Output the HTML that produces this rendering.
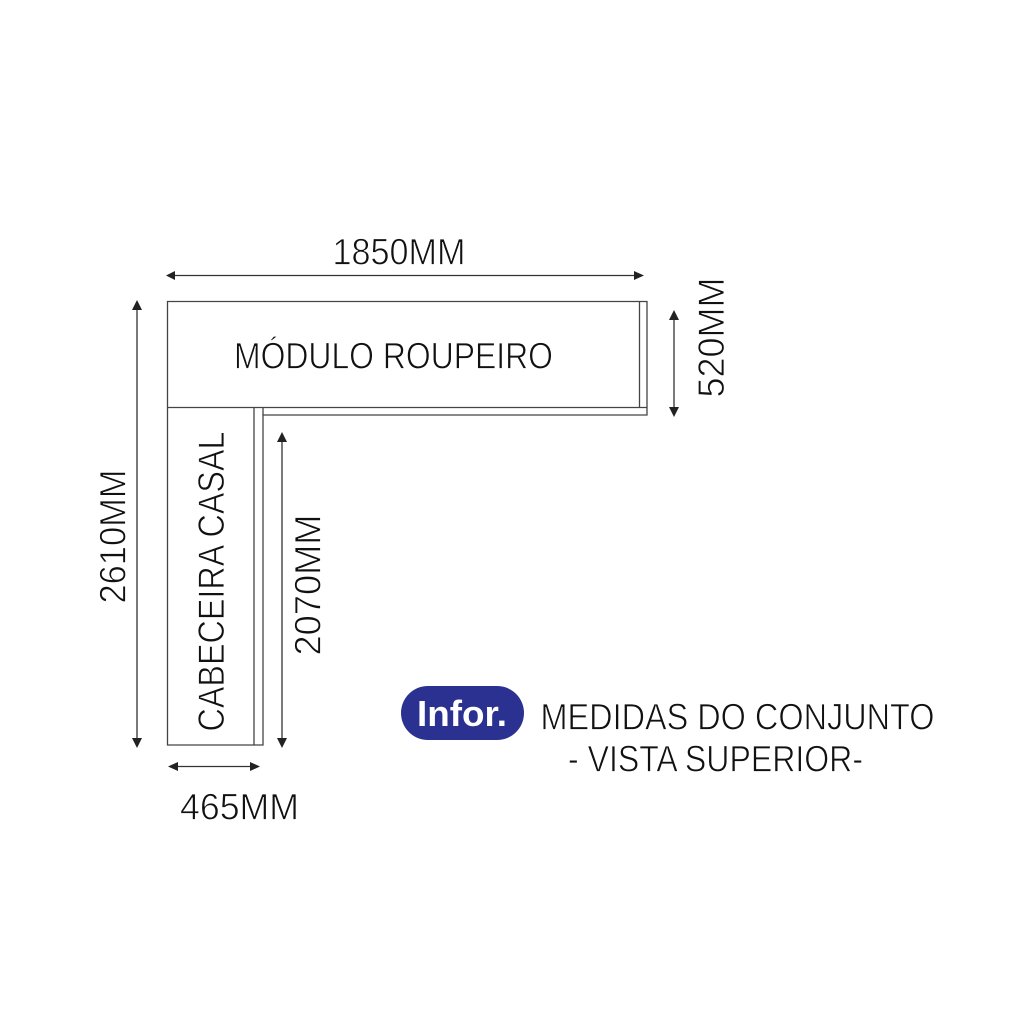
<!DOCTYPE html>
<html><head><meta charset="utf-8"><style>
html,body{margin:0;padding:0;background:#fff}
svg{display:block}
text{font-family:"Liberation Sans",sans-serif;fill:#111}
.t{font-size:37.5px;stroke:#fff;stroke-width:.8px;paint-order:normal}
</style></head><body>
<svg width="1024" height="1024" viewBox="0 0 1024 1024" xmlns="http://www.w3.org/2000/svg">
<rect width="1024" height="1024" fill="#fff"/>
<g fill="none" stroke="#444" stroke-width="1.3">
<path d="M167.500 301.500H647V415H263V745H167.500Z"/>
<path d="M167.500 407.500H647"/>
<path d="M639.500 301.500V407.500"/>
<path d="M254 407.500V745"/>
<path d="M263 407.500V415"/>
</g>
<g fill="none" stroke="#333" stroke-width="1.3">
<path d="M172 275.500H638"/>
<path d="M137 305V743"/>
<path d="M674 315V411"/>
<path d="M282 438V742"/>
<path d="M174 766.500H255"/>
</g>
<g fill="#222">
<path d="M166 275.500L175 271V280Z"/>
<path d="M644 275.500L634 271V280Z"/>
<path d="M137 300L132 310H142Z"/>
<path d="M137 748L132 738H142Z"/>
<path d="M674 310L669 320H679Z"/>
<path d="M674 417L669 407H679Z"/>
<path d="M282 432L277 442H287Z"/>
<path d="M282 748L277 738H287Z"/>
<path d="M168 766.500L178 762V771Z"/>
<path d="M260 766.500L250 762V771Z"/>
</g>
<text class="t" x="332.500" y="264.500" textLength="133" lengthAdjust="spacingAndGlyphs">1850MM</text>
<text class="t" x="234" y="368.500" textLength="319" lengthAdjust="spacingAndGlyphs">MÓDULO ROUPEIRO</text>
<text class="t" x="180" y="819.500" textLength="119" lengthAdjust="spacingAndGlyphs">465MM</text>
<text class="t" transform="translate(724 397.500) rotate(-90)" x="0" y="0" textLength="120" lengthAdjust="spacingAndGlyphs">520MM</text>
<text class="t" transform="translate(125.500 603.500) rotate(-90)" x="0" y="0" textLength="134" lengthAdjust="spacingAndGlyphs">2610MM</text>
<text class="t" transform="translate(320.500 655.500) rotate(-90)" x="0" y="0" textLength="141" lengthAdjust="spacingAndGlyphs">2070MM</text>
<text class="t" transform="translate(224 731.500) rotate(-90)" x="0" y="0" textLength="300" lengthAdjust="spacingAndGlyphs">CABECEIRA CASAL</text>
<text class="t" x="540.500" y="729.500" textLength="394" lengthAdjust="spacingAndGlyphs">MEDIDAS DO CONJUNTO</text>
<text class="t" x="568" y="771.500" textLength="295" lengthAdjust="spacingAndGlyphs">- VISTA SUPERIOR-</text>
<rect x="401" y="686" width="123" height="54" rx="27" fill="#2b3190"/>
<text x="417" y="726" font-size="36" font-weight="700" style="fill:#fff" textLength="90" lengthAdjust="spacingAndGlyphs">Infor.</text>
</svg>
</body></html>
